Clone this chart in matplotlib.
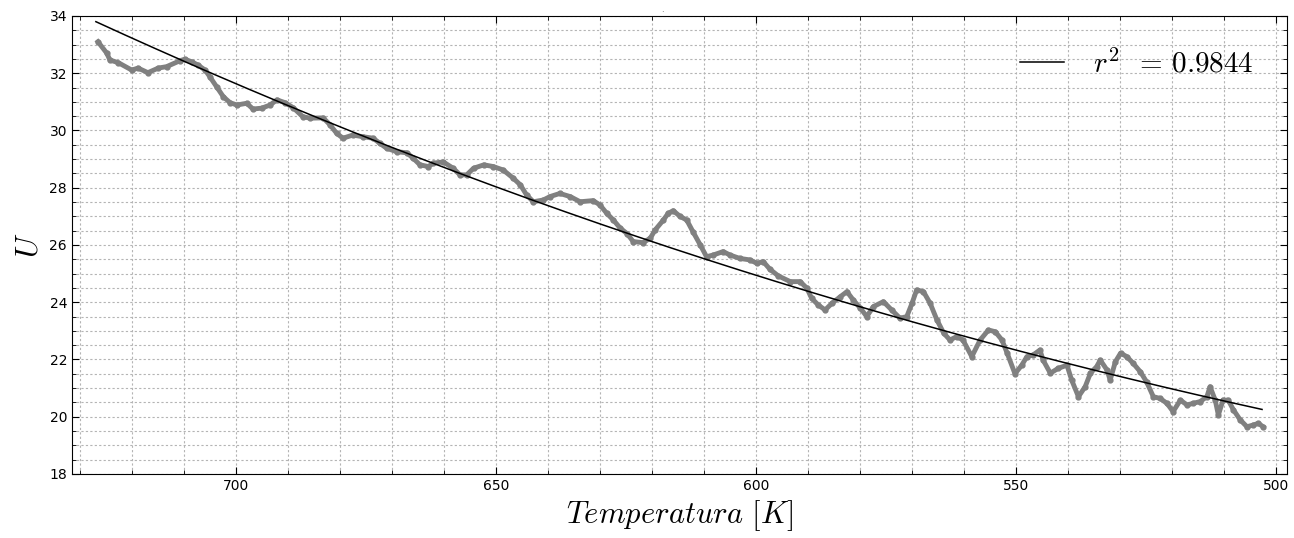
import numpy as np
import matplotlib.pyplot as plt
from matplotlib.ticker import MultipleLocator

plt.rcParams['mathtext.fontset'] = 'cm'

# measured points (temperature in K, U)
temp = np.array([726.5, 724.8, 724.2, 722.6, 720.0, 718.8, 716.9, 714.9, 713.3, 710.7,
                 709.8, 708.5, 707.3, 705.9, 705.0, 703.7, 702.4, 701.1, 699.8, 697.9,
                 696.7, 695.0, 693.4, 692.1, 690.5, 689.0, 687.1, 685.7, 683.2, 681.9,
                 680.6, 679.4, 677.5, 675.5, 673.6, 672.3, 671.0, 669.1, 667.1, 665.9,
                 664.6, 663.0, 662.0, 660.1, 658.2, 656.9, 655.6, 654.3, 652.3, 650.5,
                 648.6, 646.7, 645.3, 644.1, 642.8, 640.9, 639.6, 637.7, 635.7, 633.8,
                 631.3, 630.0, 628.7, 627.4, 626.1, 624.8, 623.6, 621.7, 620.3, 619.4,
                 617.8, 616.9, 615.9, 614.6, 613.3, 612.1, 610.7, 609.5, 608.2, 606.3,
                 605.0, 603.1, 601.2, 599.8, 598.6, 597.3, 595.7, 593.4, 591.5, 590.2,
                 589.3, 588.0, 586.7, 585.4, 583.8, 582.5, 581.3, 579.9, 578.7, 577.4,
                 575.5, 573.9, 572.3, 571.0, 570.0, 569.1, 567.8, 566.5, 565.2, 563.9,
                 562.7, 561.4, 560.2, 558.5, 556.9, 555.3, 554.0, 552.7, 551.7, 550.2,
                 548.9, 547.9, 546.7, 545.4, 544.8, 543.4, 541.9, 540.2, 539.3, 538.0,
                 536.7, 535.7, 534.5, 533.8, 532.5, 531.9, 530.9, 529.9, 528.7, 527.5,
                 526.1, 524.9, 523.6, 522.3, 521.0, 519.8, 518.4, 517.1, 515.9, 514.6,
                 513.3, 512.7, 511.7, 511.1, 510.2, 509.2, 508.2, 506.9, 505.6, 504.4,
                 503.4, 502.5])
U = np.array([33.10, 32.70, 32.46, 32.37, 32.11, 32.18, 32.02, 32.18, 32.23, 32.44,
              32.49, 32.40, 32.29, 32.11, 31.88, 31.53, 31.18, 30.97, 30.89, 30.95,
              30.75, 30.78, 30.89, 31.07, 30.97, 30.80, 30.48, 30.43, 30.44, 30.20,
              29.90, 29.73, 29.84, 29.78, 29.73, 29.55, 29.38, 29.26, 29.22, 29.03,
              28.80, 28.74, 28.86, 28.90, 28.68, 28.45, 28.45, 28.68, 28.80, 28.74,
              28.62, 28.34, 28.10, 27.75, 27.51, 27.57, 27.69, 27.80, 27.69, 27.51,
              27.55, 27.40, 27.11, 26.87, 26.59, 26.40, 26.12, 26.08, 26.24, 26.52,
              26.87, 27.10, 27.20, 27.00, 26.87, 26.46, 26.00, 25.59, 25.65, 25.77,
              25.65, 25.53, 25.48, 25.36, 25.42, 25.15, 24.92, 24.72, 24.72, 24.49,
              24.14, 23.90, 23.73, 23.96, 24.19, 24.37, 24.08, 23.79, 23.50, 23.85,
              24.02, 23.73, 23.44, 23.50, 23.96, 24.43, 24.37, 23.96, 23.38, 22.92,
              22.68, 22.80, 22.68, 22.10, 22.68, 23.03, 22.97, 22.68, 22.22, 21.50,
              21.80, 22.10, 22.16, 22.33, 21.98, 21.52, 21.69, 21.80, 21.28, 20.70,
              21.05, 21.52, 21.75, 21.98, 21.63, 21.28, 21.92, 22.22, 22.10, 21.87,
              21.57, 21.22, 20.70, 20.64, 20.47, 20.18, 20.58, 20.41, 20.47, 20.53,
              20.70, 21.05, 20.58, 20.06, 20.58, 20.58, 20.24, 19.89, 19.65, 19.71,
              19.77, 19.65])

# fit U = a + c*T^3
fit_a = 13.56
fit_c = 5.27e-8
fit_range = [726.9, 502.7]
r2 = 0.9844

fig = plt.figure(figsize=(12.94, 5.38), dpi=100)
ax = fig.add_axes([0.0556, 0.119, 0.939, 0.8513])

ax.plot(temp, U, '-', color='#808080', lw=3.5, marker='o', ms=3.5, mec='#808080',
        mfc='#808080', solid_joinstyle='round', zorder=2)
tf = np.linspace(fit_range[0], fit_range[1], 200)
ax.plot(tf, fit_a + fit_c * tf**3, 'k-', lw=1.1, zorder=3,
        label=r'$r^2\;\;=\,%.4f$' % r2)

ax.set_xlim(731.5, 497.9)
ax.set_ylim(18, 34)
ax.xaxis.set_major_locator(MultipleLocator(50))
ax.xaxis.set_minor_locator(MultipleLocator(10))
ax.yaxis.set_major_locator(MultipleLocator(2))
ax.yaxis.set_minor_locator(MultipleLocator(0.5))
ax.tick_params(which='both', direction='in', top=True, right=True, labelsize=10)
ax.tick_params(which='major', length=5)
ax.tick_params(which='minor', length=3)
ax.grid(which='both', color='#b4b4b4', linestyle=(0, (2, 2)), lw=0.8)
ax.set_axisbelow(True)

ax.set_xlabel(r'$Temperatura\ [K]$', fontsize=22)
ax.set_ylabel(r'$U$', fontsize=22)
ax.legend(loc='upper right', frameon=False, fontsize=21, handlelength=1.5,
          handletextpad=1.0, borderaxespad=0.75)

fig.text(662 / 1294, 1 - 12 / 538, '.', fontsize=6, color='#555555', ha='center')

fig.savefig('out.png', dpi=100)
